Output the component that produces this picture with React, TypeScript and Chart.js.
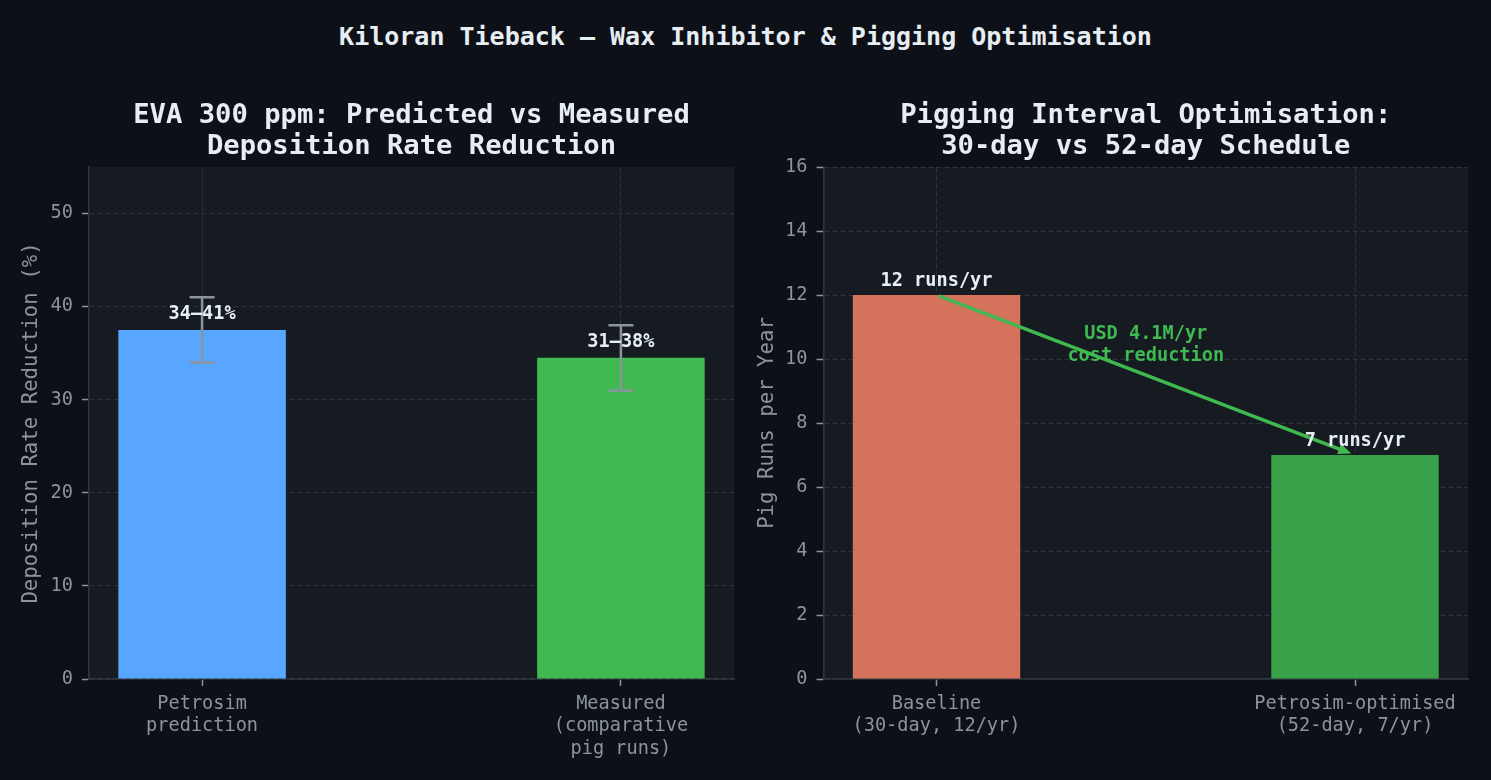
import { useEffect, useRef } from "react";
import { Chart, registerables } from "chart.js";

Chart.register(...registerables);

const FONT = "'DejaVu Sans Mono', monospace";
const FIG_BG = "#0d1117";
const AX_BG = "#161b22";
const TEXT = "#e6edf3";
const MUTED = "#8b949e";
const SPINE = "#30363d";
const GRID = "rgba(48,54,61,0.85)";
const GREEN = "#3fb950";

const suptitle = "Kiloran Tieback — Wax Inhibitor & Pigging Optimisation";

// EVA inhibitor panel
const evaTitle = ["EVA 300 ppm: Predicted vs Measured", "Deposition Rate Reduction"];
const evaCategories = [["Petrosim", "prediction"], ["Measured", "(comparative", "pig runs)"]];
const evaMean = [37.5, 34.5];
const evaLow = [34, 31];
const evaHigh = [41, 38];
const evaRangeLabels = ["34–41%", "31–38%"];
const evaColors = ["#58a6ff", "#3fb950"];
const evaYTicks = [0, 10, 20, 30, 40, 50];
const evaYMax = 55;
const evaYLabel = "Deposition Rate Reduction (%)";

// Pigging schedule panel
const pigTitle = ["Pigging Interval Optimisation:", "30-day vs 52-day Schedule"];
const pigCategories = [["Baseline", "(30-day, 12/yr)"], ["Petrosim-optimised", "(52-day, 7/yr)"]];
const pigRuns = [12, 7];
const pigRunLabels = ["12 runs/yr", "7 runs/yr"];
const pigColors = ["rgba(247,129,102,0.85)", "rgba(63,185,80,0.85)"];
const pigYTicks = [0, 2, 4, 6, 8, 10, 12, 14, 16];
const pigYMax = 16;
const pigYLabel = "Pig Runs per Year";
const savingLines = ["USD 4.1M/yr", "cost reduction"];

type Panel = {
  title: string[];
  categories: string[][];
  values: number[];
  colors: string[];
  yTicks: number[];
  yMax: number;
  yLabel: string;
  yAxisWidth: number;
  padRight: number;
  yTitlePad: number;
  overlay: (chart: Chart) => void;
};

const fontStr = (size: number, bold = false) => `${bold ? "bold " : ""}${size}px ${FONT}`;

function drawEvaOverlay(chart: Chart) {
  const { ctx } = chart;
  const xs = chart.scales.x;
  const ys = chart.scales.y;
  ctx.save();
  // error bars
  ctx.strokeStyle = MUTED;
  ctx.lineWidth = 2.5;
  evaMean.forEach((_, i) => {
    const px = xs.getPixelForValue(i);
    const lo = ys.getPixelForValue(evaLow[i]);
    const hi = ys.getPixelForValue(evaHigh[i]);
    ctx.beginPath();
    ctx.moveTo(px, lo);
    ctx.lineTo(px, hi);
    ctx.moveTo(px - 12.5, lo);
    ctx.lineTo(px + 12.5, lo);
    ctx.moveTo(px - 12.5, hi);
    ctx.lineTo(px + 12.5, hi);
    ctx.stroke();
  });
  // range labels
  ctx.fillStyle = TEXT;
  ctx.font = fontStr(18.6, true);
  ctx.textAlign = "center";
  ctx.textBaseline = "alphabetic";
  evaMean.forEach((v, i) => {
    ctx.fillText(evaRangeLabels[i], xs.getPixelForValue(i), ys.getPixelForValue(v + 1.2));
  });
  ctx.restore();
}

function drawPigOverlay(chart: Chart) {
  const { ctx } = chart;
  const xs = chart.scales.x;
  const ys = chart.scales.y;
  ctx.save();
  // arrow from baseline bar top to optimised bar top
  const x0 = xs.getPixelForValue(0);
  const y0 = ys.getPixelForValue(pigRuns[0]);
  const x1 = xs.getPixelForValue(1);
  const y1 = ys.getPixelForValue(pigRuns[1]);
  const len = Math.hypot(x1 - x0, y1 - y0);
  const ux = (x1 - x0) / len;
  const uy = (y1 - y0) / len;
  const sx = x0 + ux * 4;
  const sy = y0 + uy * 4;
  const ex = x1 - ux * 4;
  const ey = y1 - uy * 4;
  const headLen = 13;
  const headW = 5.5;
  ctx.strokeStyle = GREEN;
  ctx.fillStyle = GREEN;
  ctx.lineWidth = 3.5;
  ctx.lineCap = "round";
  ctx.beginPath();
  ctx.moveTo(sx, sy);
  ctx.lineTo(ex - ux * headLen * 0.6, ey - uy * headLen * 0.6);
  ctx.stroke();
  ctx.beginPath();
  ctx.moveTo(ex, ey);
  ctx.lineTo(ex - ux * headLen - uy * headW, ey - uy * headLen + ux * headW);
  ctx.lineTo(ex - ux * headLen + uy * headW, ey - uy * headLen - ux * headW);
  ctx.closePath();
  ctx.fill();

  // saving annotation
  ctx.font = fontStr(18.6, true);
  ctx.textAlign = "center";
  ctx.textBaseline = "alphabetic";
  const mx = xs.getPixelForValue(0.5);
  const my = ys.getPixelForValue(10.5);
  ctx.fillText(savingLines[0], mx, my - 4);
  ctx.fillText(savingLines[1], mx, my + 18);

  // run count labels
  ctx.fillStyle = TEXT;
  pigRuns.forEach((v, i) => {
    ctx.fillText(pigRunLabels[i], xs.getPixelForValue(i), ys.getPixelForValue(v + 0.28));
  });
  ctx.restore();
}

const evaPanel: Panel = {
  title: evaTitle,
  categories: evaCategories,
  values: evaMean,
  colors: evaColors,
  yTicks: evaYTicks,
  yMax: evaYMax,
  yLabel: evaYLabel,
  yAxisWidth: 89,
  padRight: 11,
  yTitlePad: 19.5,
  overlay: drawEvaOverlay,
};

const pigPanel: Panel = {
  title: pigTitle,
  categories: pigCategories,
  values: pigRuns,
  colors: pigColors,
  yTicks: pigYTicks,
  yMax: pigYMax,
  yLabel: pigYLabel,
  yAxisWidth: 78.5,
  padRight: 23,
  yTitlePad: 10,
  overlay: drawPigOverlay,
};

function buildChart(canvas: HTMLCanvasElement, p: Panel) {
  const gridOpts = {
    color: GRID,
    lineWidth: 1,
    offset: false,
    drawTicks: true,
    tickLength: 7,
    tickColor: MUTED,
    tickWidth: 1.5,
    tickBorderDash: [],
  };
  const borderOpts = { display: true, color: SPINE, width: 1.5, dash: [5, 3] };
  const tickFont = { family: FONT, size: 18.6, lineHeight: 1.2 };

  return new Chart(canvas, {
    type: "bar",
    data: {
      datasets: [
        {
          data: p.values.map((v, i) => ({ x: i, y: v })),
          backgroundColor: p.colors,
          borderWidth: 0,
          categoryPercentage: 1,
          barPercentage: 0.4,
        },
      ],
    },
    options: {
      animation: false,
      responsive: false,
      maintainAspectRatio: false,
      devicePixelRatio: 1,
      layout: { padding: { left: 0, right: p.padRight, top: 167, bottom: 0 } },
      plugins: {
        legend: { display: false },
        title: { display: false },
        tooltip: { enabled: false },
      },
      scales: {
        x: {
          type: "linear",
          min: -0.27,
          max: 1.27,
          offset: false,
          afterBuildTicks: (s: any) => {
            s.ticks = p.categories.map((_, i) => ({ value: i }));
          },
          afterFit: (s: any) => {
            s.height = 101;
          },
          ticks: {
            callback: (v: any) => p.categories[Math.round(Number(v))] ?? "",
            color: MUTED,
            font: tickFont,
            padding: 7,
            maxRotation: 0,
            autoSkip: false,
          },
          grid: gridOpts,
          border: borderOpts,
        },
        y: {
          type: "linear",
          min: 0,
          max: p.yMax,
          afterBuildTicks: (s: any) => {
            s.ticks = p.yTicks.map((v) => ({ value: v }));
          },
          afterFit: (s: any) => {
            s.width = p.yAxisWidth;
          },
          ticks: {
            callback: (v: any) => String(v),
            color: MUTED,
            font: tickFont,
            padding: 9,
          },
          grid: gridOpts,
          border: borderOpts,
          title: {
            display: true,
            text: p.yLabel,
            color: MUTED,
            font: { family: FONT, size: 20.7, lineHeight: 1.2 },
            padding: { top: p.yTitlePad, bottom: 0 },
          },
        },
      },
    } as any,
    plugins: [
      {
        id: "plotBackground",
        beforeDraw(chart: Chart) {
          const { ctx, chartArea } = chart;
          ctx.save();
          ctx.fillStyle = AX_BG;
          ctx.fillRect(chartArea.left, chartArea.top, chartArea.right - chartArea.left, chartArea.bottom - chartArea.top);
          ctx.restore();
        },
      },
      {
        id: "panelOverlay",
        afterDatasetsDraw(chart: Chart) {
          p.overlay(chart);
        },
        afterDraw(chart: Chart) {
          const { ctx, chartArea } = chart;
          ctx.save();
          ctx.fillStyle = TEXT;
          ctx.font = fontStr(27.2, true);
          ctx.textAlign = "center";
          ctx.textBaseline = "alphabetic";
          const cx = (chartArea.left + chartArea.right) / 2;
          ctx.fillText(p.title[0], cx, 123);
          ctx.fillText(p.title[1], cx, 154.3);
          ctx.restore();
        },
      },
    ],
  });
}

export default function App() {
  const leftRef = useRef<HTMLCanvasElement>(null);
  const rightRef = useRef<HTMLCanvasElement>(null);

  useEffect(() => {
    document.body.style.margin = "0";
    document.body.style.background = FIG_BG;
    const a = buildChart(leftRef.current!, evaPanel);
    const b = buildChart(rightRef.current!, pigPanel);
    return () => {
      a.destroy();
      b.destroy();
    };
  }, []);

  return (
    <div style={{ position: "relative", width: 1491, height: 780, background: FIG_BG, overflow: "hidden" }}>
      <div
        style={{
          position: "absolute",
          left: 0,
          top: 24,
          width: 1491,
          textAlign: "center",
          fontFamily: FONT,
          fontWeight: "bold",
          fontSize: 25,
          lineHeight: 1,
          color: TEXT,
          whiteSpace: "pre",
        }}
      >
        {suptitle}
      </div>
      <canvas
        ref={leftRef}
        width={745}
        height={780}
        style={{ position: "absolute", left: 0, top: 0, width: 745, height: 780 }}
      />
      <canvas
        ref={rightRef}
        width={746}
        height={780}
        style={{ position: "absolute", left: 745, top: 0, width: 746, height: 780 }}
      />
    </div>
  );
}
